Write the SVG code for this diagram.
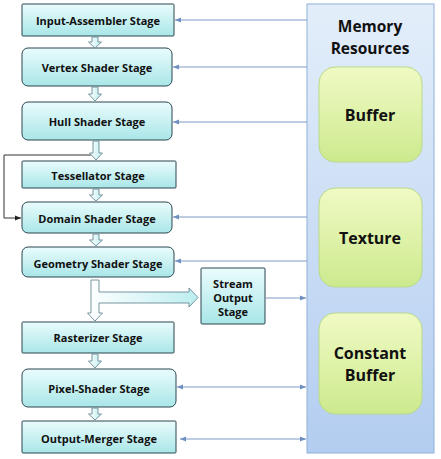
<svg xmlns="http://www.w3.org/2000/svg" width="441" height="459" viewBox="0 0 441 459">
<defs>
<linearGradient id="stg" x1="0" y1="0" x2="0" y2="1">
<stop offset="0" stop-color="#eafcfc"/><stop offset="1" stop-color="#a9e6e8"/>
</linearGradient>
<linearGradient id="pan" x1="0" y1="0" x2="0" y2="1">
<stop offset="0" stop-color="#e3eefa"/><stop offset="1" stop-color="#b3cdf0"/>
</linearGradient>
<linearGradient id="grn" x1="0" y1="0" x2="0" y2="1">
<stop offset="0" stop-color="#f0fac4"/><stop offset="1" stop-color="#cdea8e"/>
</linearGradient>
<linearGradient id="blk" x1="0" y1="0" x2="1" y2="0">
<stop offset="0" stop-color="#ffffff"/><stop offset="1" stop-color="#bdeef0"/>
</linearGradient>
<marker id="ah" viewBox="0 0 10 10" refX="10" refY="5" markerWidth="6" markerHeight="6" orient="auto-start-reverse" markerUnits="userSpaceOnUse">
<path d="M0,1 L10,5 L0,9 z" fill="#6f8fc0"/>
</marker>
<marker id="ak" viewBox="0 0 10 10" refX="10" refY="5" markerWidth="6" markerHeight="6" orient="auto" markerUnits="userSpaceOnUse">
<path d="M0,1 L10,5 L0,9 z" fill="#222"/>
</marker>
</defs>
<style>
.st{fill:url(#stg);stroke:#2b4650;stroke-width:1}
.t{font-family:"Open Sans","Liberation Sans",sans-serif;font-weight:bold;font-size:11px;fill:#111;text-anchor:middle;dominant-baseline:central}
.big{font-family:"Open Sans","Liberation Sans",sans-serif;font-weight:bold;font-size:16px;fill:#111;text-anchor:middle;dominant-baseline:central}
.mem{font-family:"Open Sans","Liberation Sans",sans-serif;font-weight:bold;font-size:15.5px;fill:#111;text-anchor:middle;dominant-baseline:central}
.ln{stroke:#7f9cc6;stroke-width:1.2;fill:none}
.ba{fill:url(#blk);stroke:#6a8a94;stroke-width:0.9}
.gr{fill:url(#grn);stroke:#b9d98a;stroke-width:1}
</style>

<g id="memory">
<rect x="307" y="4" width="127" height="449" fill="url(#pan)" stroke="#8fb0d8" stroke-width="1"/>
<text class="mem" x="370" y="26">Memory</text>
<text class="mem" x="370" y="47.5">Resources</text>
</g>
<g id="buffer">
<rect class="gr" x="319" y="67" width="103" height="95" rx="16"/>
<text class="big" x="370" y="115">Buffer</text>
</g>
<g id="texture">
<rect class="gr" x="319" y="188" width="103" height="99" rx="16"/>
<text class="big" x="370" y="238">Texture</text>
</g>
<g id="constant">
<rect class="gr" x="319" y="313" width="103" height="101" rx="16"/>
<text class="big" x="370" y="353">Constant</text>
<text class="big" x="370" y="374.5">Buffer</text>
</g>

<g id="ia"><rect class="st" x="22" y="4" width="152" height="32" rx="1"/><text class="t" x="98" y="20">Input-Assembler Stage</text></g>
<g id="vs"><rect class="st" x="22" y="48" width="150" height="38" rx="6"/><text class="t" x="97" y="67">Vertex Shader Stage</text></g>
<g id="hs"><rect class="st" x="22" y="102" width="150" height="38" rx="6"/><text class="t" x="97" y="121">Hull Shader Stage</text></g>
<g id="ts"><rect class="st" x="22" y="161" width="154" height="27" rx="1"/><text class="t" x="98" y="175">Tessellator Stage</text></g>
<g id="ds"><rect class="st" x="22" y="202" width="150" height="31" rx="6"/><text class="t" x="97" y="218">Domain Shader Stage</text></g>
<g id="gs"><rect class="st" x="22" y="247" width="152" height="30" rx="6"/><text class="t" x="98" y="263">Geometry Shader Stage</text></g>
<g id="so"><rect class="st" x="201" y="268" width="64" height="56" rx="1"/>
<text class="t" x="233" y="283">Stream</text><text class="t" x="233" y="297">Output</text><text class="t" x="233" y="311">Stage</text></g>
<g id="rs"><rect class="st" x="22" y="322" width="152" height="31" rx="1"/><text class="t" x="98" y="337">Rasterizer Stage</text></g>
<g id="ps"><rect class="st" x="22" y="369" width="154" height="38" rx="6"/><text class="t" x="99" y="388">Pixel-Shader Stage</text></g>
<g id="om"><rect class="st" x="22" y="421" width="154" height="32" rx="1"/><text class="t" x="99" y="438">Output-Merger Stage</text></g>

<g id="connectors">
<line class="ln" x1="307" y1="20" x2="175" y2="20" marker-end="url(#ah)"/>
<line class="ln" x1="307" y1="67" x2="173" y2="67" marker-end="url(#ah)"/>
<line class="ln" x1="307" y1="122" x2="173" y2="122" marker-end="url(#ah)"/>
<line class="ln" x1="307" y1="217" x2="173" y2="217" marker-end="url(#ah)"/>
<line class="ln" x1="307" y1="261" x2="175" y2="261" marker-end="url(#ah)"/>
<line class="ln" x1="266" y1="298" x2="306" y2="298" marker-end="url(#ah)"/>
<line class="ln" x1="177" y1="387" x2="306" y2="387" marker-start="url(#ah)" marker-end="url(#ah)"/>
<line class="ln" x1="180" y1="439" x2="306" y2="439" marker-start="url(#ah)" marker-end="url(#ah)"/>
<polyline points="91,155 4,155 4,218 21,218" fill="none" stroke="#333" stroke-width="1" marker-end="url(#ak)"/>
<path class="ba" d="M92,37 L98,37 L98,42 L101.5,42 L95,48 L88.5,42 L92,42 z"/>
<path class="ba" d="M92,87 L98,87 L98,94 L101.5,94 L95,101 L88.5,94 L92,94 z"/>
<path class="ba" d="M93,141 L99,141 L99,153 L102.5,153 L96,160 L89.5,153 L93,153 z"/>
<path class="ba" d="M93,189 L99,189 L99,195 L102.5,195 L96,201 L89.5,195 L93,195 z"/>
<path class="ba" d="M93,234 L99,234 L99,240 L102.5,240 L96,246 L89.5,240 L93,240 z"/>
<path class="ba" d="M92,354 L98,354 L98,361 L101.5,361 L95,368 L88.5,361 L92,361 z"/>
<path class="ba" d="M92,408 L98,408 L98,414 L101.5,414 L95,420 L88.5,414 L92,414 z"/>
<path class="ba" d="M91,280 L99,280 L99,292 L189,292 L189,288 L198,297.5 L189,307 L189,303 L99,303 L99,313 L102.5,313 L95,321 L87.5,313 L91,313 z"/>
</g>
</svg>
